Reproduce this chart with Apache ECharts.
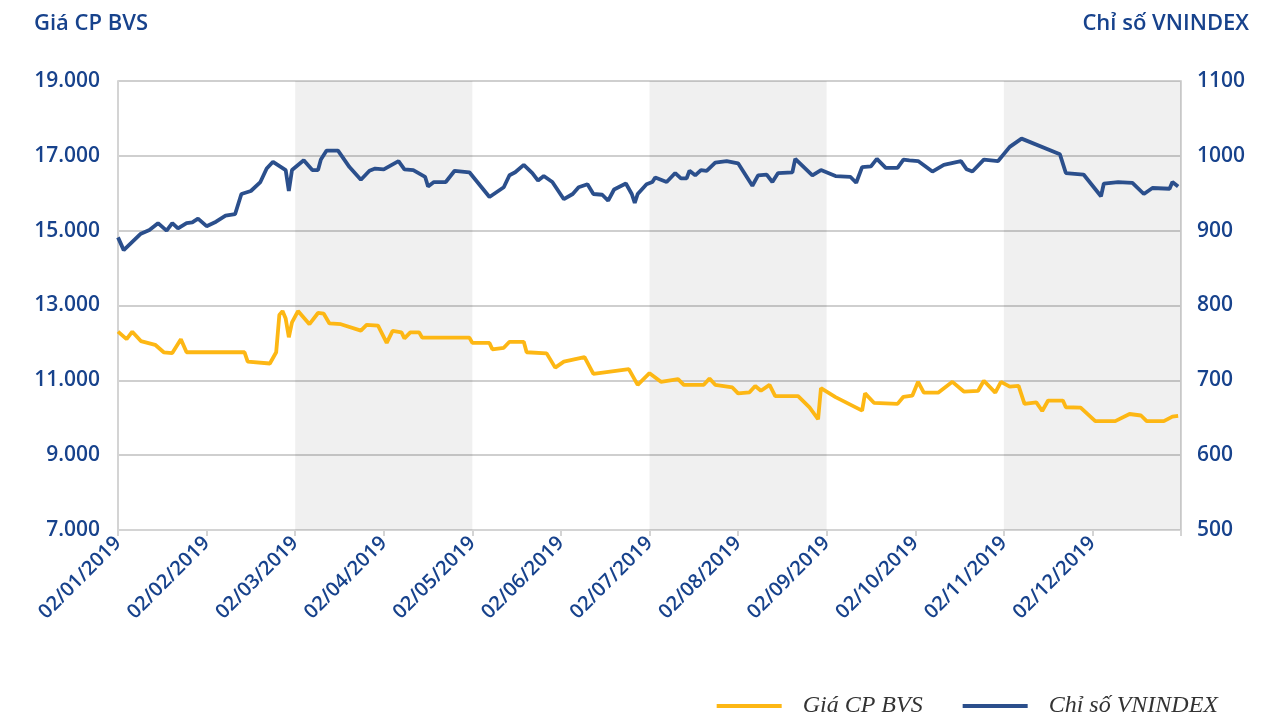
<!DOCTYPE html>
<html>
<head>
<meta charset="utf-8">
<script src="https://cdn.jsdelivr.net/npm/echarts@6/dist/echarts.min.js"></script>
<style>html,body{margin:0;padding:0;background:#fff}#c{width:1281px;height:716px}</style>
</head>
<body>
<div id="c"></div>
<script>
// ---- data ----
const tickLabels = ['02/01/2019','02/02/2019','02/03/2019','02/04/2019','02/05/2019','02/06/2019','02/07/2019','02/08/2019','02/09/2019','02/10/2019','02/11/2019','02/12/2019','02/01/2020'];

const bvsDates = ['02/01/2019','05/01/2019','07/01/2019','10/01/2019','15/01/2019','18/01/2019','21/01/2019','24/01/2019','26/01/2019',
 '14/02/2019','15/02/2019','22/02/2019','24/02/2019','25/02/2019','26/02/2019','27/02/2019','28/02/2019','01/03/2019',
 '03/03/2019','07/03/2019','10/03/2019','12/03/2019','14/03/2019','18/03/2019','25/03/2019','27/03/2019','31/03/2019',
 '03/04/2019','05/04/2019','08/04/2019','09/04/2019','11/04/2019','14/04/2019','15/04/2019','01/05/2019',
 '02/05/2019','08/05/2019','09/05/2019','13/05/2019','15/05/2019','20/05/2019','21/05/2019','28/05/2019','31/05/2019',
 '03/06/2019','10/06/2019','13/06/2019','25/06/2019','28/06/2019',
 '02/07/2019','06/07/2019','12/07/2019','14/07/2019','21/07/2019','23/07/2019','25/07/2019','31/07/2019',
 '02/08/2019','06/08/2019','08/08/2019','10/08/2019','13/08/2019','15/08/2019','23/08/2019','27/08/2019','30/08/2019','31/08/2019',
 '05/09/2019','14/09/2019','15/09/2019','18/09/2019','26/09/2019','28/09/2019','01/10/2019',
 '03/10/2019','05/10/2019','10/10/2019','15/10/2019','19/10/2019','24/10/2019','26/10/2019','30/10/2019','01/11/2019',
 '04/11/2019','07/11/2019','09/11/2019','13/11/2019','15/11/2019','17/11/2019','22/11/2019','23/11/2019','28/11/2019',
 '03/12/2019','10/12/2019','15/12/2019','19/12/2019','21/12/2019','27/12/2019','30/12/2019','01/01/2020'];
const bvsValues = [12300,12100,12300,12050,11950,11750,11730,12100,11750,
 11750,11500,11450,11750,12750,12850,12650,12150,12550,
 12850,12500,12800,12780,12520,12500,12330,12480,12460,
 12000,12320,12280,12120,12280,12280,12140,12140,
 12000,12000,11830,11870,12030,12030,11750,11720,11340,
 11500,11620,11170,11300,10880,
 11190,10960,11030,10880,10880,11050,10880,10810,
 10650,10680,10850,10720,10880,10580,10580,10280,9960,10790,
 10550,10190,10650,10400,10370,10560,10590,
 10960,10670,10670,10960,10700,10720,10990,10670,10960,
 10830,10850,10370,10410,10180,10460,10460,10280,10270,
 9910,9910,10100,10060,9910,9910,10030,10050];

const vnDates = ['02/01/2019','04/01/2019','07/01/2019','10/01/2019','13/01/2019','16/01/2019','19/01/2019','21/01/2019','23/01/2019','26/01/2019','28/01/2019','30/01/2019',
 '02/02/2019','05/02/2019','08/02/2019','11/02/2019','13/02/2019','16/02/2019','19/02/2019','21/02/2019','23/02/2019','27/02/2019','28/02/2019','01/03/2019',
 '05/03/2019','08/03/2019','10/03/2019','11/03/2019','13/03/2019','17/03/2019','21/03/2019','25/03/2019','28/03/2019','30/03/2019',
 '02/04/2019','07/04/2019','09/04/2019','12/04/2019','16/04/2019','17/04/2019','19/04/2019','23/04/2019','26/04/2019','01/05/2019',
 '08/05/2019','13/05/2019','15/05/2019','17/05/2019','20/05/2019','23/05/2019','25/05/2019','27/05/2019','30/05/2019',
 '03/06/2019','06/06/2019','08/06/2019','11/06/2019','13/06/2019','16/06/2019','18/06/2019','20/06/2019','24/06/2019','26/06/2019','27/06/2019','28/06/2019','01/07/2019',
 '03/07/2019','04/07/2019','08/07/2019','11/07/2019','13/07/2019','15/07/2019','16/07/2019','18/07/2019','20/07/2019','22/07/2019','25/07/2019','29/07/2019',
 '02/08/2019','07/08/2019','09/08/2019','12/08/2019','14/08/2019','16/08/2019','21/08/2019','22/08/2019','28/08/2019','31/08/2019',
 '05/09/2019','10/09/2019','12/09/2019','14/09/2019','17/09/2019','19/09/2019','22/09/2019','26/09/2019','28/09/2019','30/09/2019',
 '03/10/2019','08/10/2019','12/10/2019','18/10/2019','20/10/2019','22/10/2019','26/10/2019','31/10/2019',
 '04/11/2019','08/11/2019','21/11/2019','23/11/2019','29/11/2019',
 '05/12/2019','06/12/2019','11/12/2019','16/12/2019','20/12/2019','23/12/2019','29/12/2019','30/12/2019','01/01/2020'];
const vnValues = [891,874,885,896,901,910,900,910,903,910,911,916,
 906,912,920,922,949,953,965,983,992,981,953,981,
 994,981,981,995,1007,1007,985,968,980,983,
 982,993,982,981,972,959,965,965,980,978,
 945,958,974,978,988,977,967,973,965,
 942,949,958,962,949,948,940,955,963,949,937,949,962,
 965,971,965,977,970,970,980,974,981,980,991,993,
 990,960,974,975,965,977,978,996,974,981,
 973,972,964,985,986,996,984,984,995,994,
 993,979,988,993,982,979,995,993,
 1012,1023,1002,977,975,
 946,963,965,964,949,957,956,965,959];

const leftTicks = {min: 7000, max: 19000, interval: 2000};
const rightTicks = {min: 500, max: 1100, interval: 100};
const shadedRanges = [['02/03/2019','02/05/2019'],['02/07/2019','02/09/2019'],['02/11/2019','02/01/2020']];
const seriesNames = ['Giá CP BVS', 'Chỉ số VNINDEX'];

// ---- date -> position on the month axis (one unit per month, ticks on the 2nd) ----
const parseD = s => { const p = s.split('/'); return new Date(+p[2], +p[1] - 1, +p[0]); };
const tickDates = tickLabels.map(parseD);
function pos(s) {
  const t = parseD(s).getTime();
  for (let m = 0; m < tickDates.length - 1; m++) {
    const a = tickDates[m].getTime(), b = tickDates[m + 1].getTime();
    if (t >= a && t <= b) return m + (t - a) / (b - a);
  }
  return tickDates.length - 1;
}

const blueText = '#17428c';
const fontFam = "'Open Sans', 'Noto Sans', sans-serif";
const fmt = v => String(v).replace(/\B(?=(\d{3})+(?!\d))/g, '.');

const chart = echarts.init(document.getElementById('c'), null, {renderer: 'canvas'});
chart.setOption({
  animation: false,
  backgroundColor: '#fff',
  title: [
    {text: 'Giá CP BVS', left: 29, top: 8, textStyle: {color: blueText, fontSize: 22, fontWeight: 600, fontFamily: fontFam}},
    {text: 'Chỉ số VNINDEX', right: 27, top: 8, textStyle: {color: blueText, fontSize: 22, fontWeight: 600, fontFamily: fontFam}}
  ],
  grid: {left: 118, right: 100, top: 81, bottom: 186},
  legend: {
    top: 689, right: 58, itemWidth: 65, itemHeight: 4, itemGap: 40, icon: 'rect',
    textStyle: {fontFamily: "'Liberation Serif', serif", fontStyle: 'italic', fontSize: 24, color: '#333', padding: [0, 0, 0, 16]},
    data: seriesNames
  },
  xAxis: {
    type: 'value', min: 0, max: tickLabels.length - 1, interval: 1,
    axisLine: {show: true, onZero: false, lineStyle: {color: '#d4d4d4', width: 2}},
    axisTick: {show: true, length: 6, lineStyle: {color: '#d4d4d4', width: 2}},
    axisLabel: {formatter: v => (v < tickLabels.length - 1 ? tickLabels[v] : ''), rotate: 45, color: blueText, fontSize: 20, fontWeight: 600, fontFamily: fontFam, margin: 10},
    splitLine: {show: false}
  },
  yAxis: [
    {type: 'value', min: leftTicks.min, max: leftTicks.max, interval: leftTicks.interval,
     axisLine: {show: true, lineStyle: {color: '#d4d4d4', width: 2}}, axisTick: {show: false},
     axisLabel: {formatter: fmt, color: blueText, fontSize: 21, fontWeight: 600, fontFamily: fontFam, margin: 18},
     splitLine: {lineStyle: {color: '#cfcfcf', width: 2}}},
    {type: 'value', min: rightTicks.min, max: rightTicks.max, interval: rightTicks.interval, position: 'right',
     axisLine: {show: true, lineStyle: {color: '#d4d4d4', width: 2}}, axisTick: {show: false},
     axisLabel: {formatter: v => String(v), color: blueText, fontSize: 21, fontWeight: 600, fontFamily: fontFam, margin: 16},
     splitLine: {show: false}}
  ],
  series: [
    {name: seriesNames[0], type: 'line', yAxisIndex: 0, showSymbol: false, symbol: 'none',
     lineStyle: {color: '#fdb714', width: 3.8}, itemStyle: {color: '#fdb714'},
     data: bvsDates.map((d, i) => [pos(d), bvsValues[i]]),
     markArea: {silent: true, itemStyle: {color: 'rgba(0,0,0,0.058)'},
       data: shadedRanges.map(r => [{xAxis: pos(r[0])}, {xAxis: pos(r[1])}])}},
    {name: seriesNames[1], type: 'line', yAxisIndex: 1, showSymbol: false, symbol: 'none',
     lineStyle: {color: '#2b4f8c', width: 3.8}, itemStyle: {color: '#2b4f8c'},
     data: vnDates.map((d, i) => [pos(d), vnValues[i]])}
  ]
});
</script>
</body>
</html>
